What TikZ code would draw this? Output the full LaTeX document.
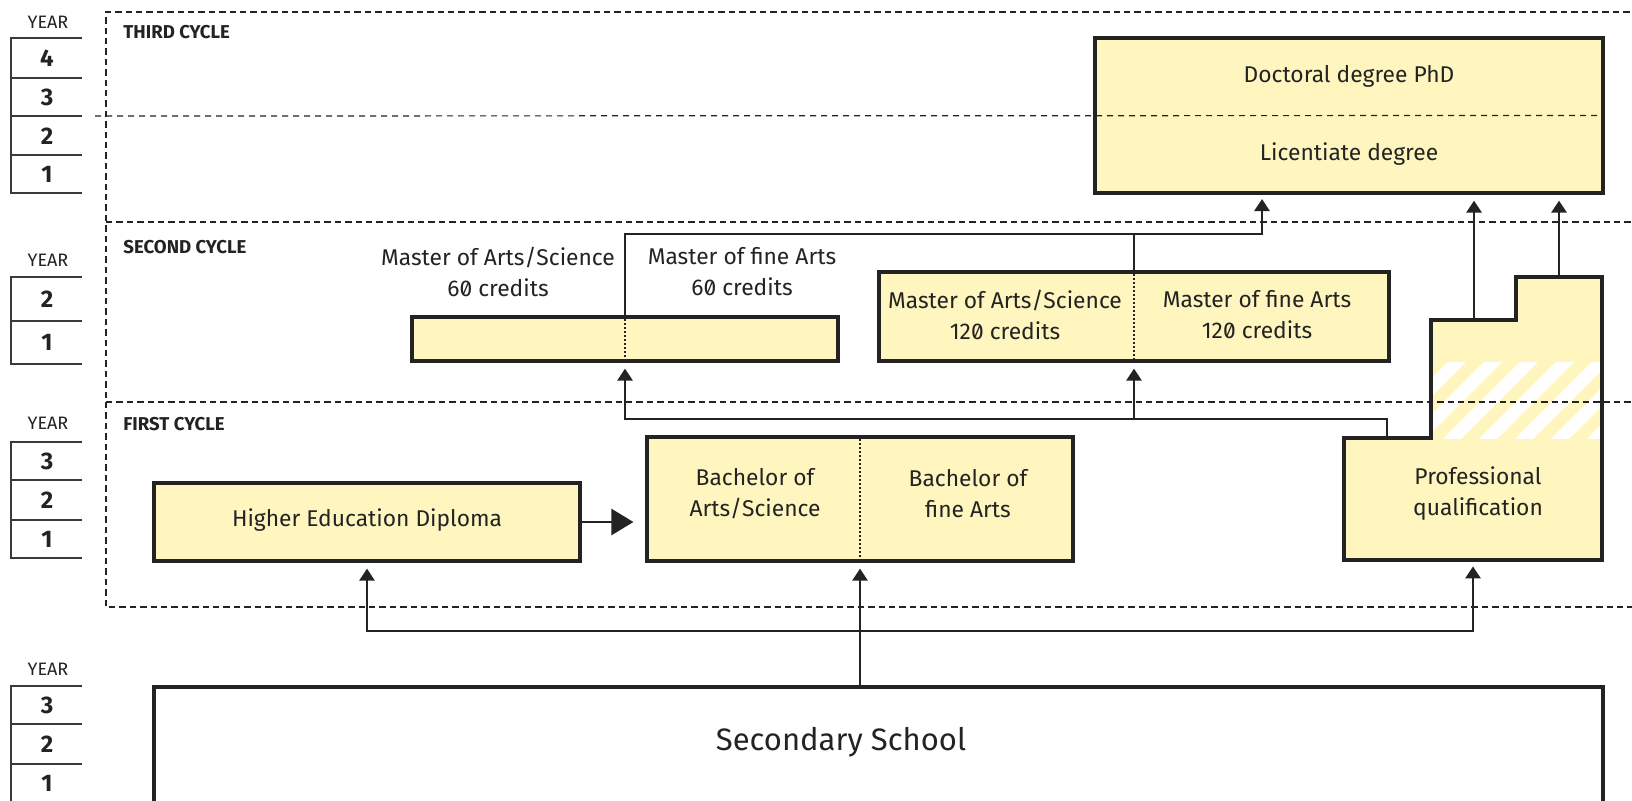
\documentclass[tikz,border=0pt]{standalone}
\usepackage{fontspec}
\setmainfont{Fira Sans}[Numbers=SlashedZero]
\usetikzlibrary{arrows.meta}
\definecolor{yel}{HTML}{FFF6BF}
\definecolor{ink}{HTML}{232323}
\definecolor{rulec}{HTML}{3A3A3A}
\begin{document}
\begin{tikzpicture}[x=0.5pt,y=-0.5pt,
  box/.style={draw=ink, line width=1.6pt, fill=yel, inner sep=0pt},
  conn/.style={draw=ink, line width=1.35pt},
  arr/.style={-{Triangle[length=6pt,width=7.5pt]}, shorten >=3pt},
  bigarr/.style={-{Triangle[length=11pt,width=13pt]}, shorten >=6pt},
  txt/.style={font=\fontsize{11.4}{15.5}\selectfont, text=ink, align=center, inner sep=0pt},
  divider/.style={draw=ink, line width=0.6pt, dash pattern=on 1pt off 1pt},
  frame/.style={draw=ink, line width=1.4pt, dash pattern=on 3.2pt off 2pt},
  thindash/.style={draw=ink, line width=0.6pt, dash pattern=on 3pt off 2.5pt},
  yearlbl/.style={font=\fontsize{9}{10}\selectfont, text=ink, inner sep=0pt},
  yearnum/.style={font=\bfseries\fontsize{12}{14}\selectfont, text=ink, inner sep=0pt},
  cyclelbl/.style={font=\bfseries\fontsize{9.3}{10}\selectfont, text=ink, anchor=west, inner sep=0pt},
  yrule/.style={draw=rulec, line width=0.8pt},
]
\useasboundingbox (0,0) rectangle (1632,800);
\fill[white] (0,0) rectangle (1632,800);

% ---------- year columns ----------
\node[yearlbl] (ya) at (48,22) {YEAR};
\draw[yrule] (82,38) -- (11,38) -- (11,193) -- (82,193);
\foreach \yy in {78,116,155} \draw[yrule] (11,\yy) -- (82,\yy);
\node[yearnum] (ya4) at (47,58) {4};
\node[yearnum] (ya3) at (47,97) {3};
\node[yearnum] (ya2) at (47,136) {2};
\node[yearnum] (ya1) at (47,174) {1};

\node[yearlbl] (yb) at (48,260) {YEAR};
\draw[yrule] (82,277) -- (11,277) -- (11,364) -- (82,364);
\draw[yrule] (11,321) -- (82,321);
\node[yearnum] (yb2) at (47,299) {2};
\node[yearnum] (yb1) at (47,342) {1};

\node[yearlbl] (yc) at (48,423) {YEAR};
\draw[yrule] (82,442) -- (11,442) -- (11,558) -- (82,558);
\foreach \yy in {480,520} \draw[yrule] (11,\yy) -- (82,\yy);
\node[yearnum] (yc3) at (47,461) {3};
\node[yearnum] (yc2) at (47,500) {2};
\node[yearnum] (yc1) at (47,539) {1};

\node[yearlbl] (yd) at (48,669) {YEAR};
\draw[yrule] (82,686) -- (11,686) -- (11,815);
\foreach \yy in {724,764,803} \draw[yrule] (11,\yy) -- (82,\yy);
\node[yearnum] (yd3) at (47,705) {3};
\node[yearnum] (yd2) at (47,744) {2};
\node[yearnum] (yd1) at (47,783) {1};

% ---------- cycle labels ----------
\node[cyclelbl] (c3) at (123,32) {THIRD CYCLE};
\node[cyclelbl] (c2) at (123,247) {SECOND CYCLE};
\node[cyclelbl] (c1) at (123,424) {FIRST CYCLE};

% ---------- third cycle ----------
\node[box, minimum width=254pt, minimum height=77.5pt] (doc) at (1349,115.5) {};
\draw[thindash] (95,116) -- (doc.east);
\node[txt] (doctxt) at (1349,76) {Doctoral degree PhD};
\node[txt] (lictxt) at (1349,154) {Licentiate degree};

% ---------- second cycle ----------
\node[box, minimum width=213pt, minimum height=22pt] (sixty) at (625,339) {};
\draw[divider] (sixty.north) -- (sixty.south);
\node[txt] (s60a) at (498,272) {Master of Arts/Science\\60 credits};
\node[txt] (s60b) at (742,272) {Master of fine Arts\\60 credits};

\node[box, minimum width=255pt, minimum height=44.5pt] (m120) at (1134,316.5) {};
\draw[divider] (m120.north) -- (m120.south);
\node[txt] (m120a) at (1005,315) {Master of Arts/Science\\120 credits};
\node[txt] (m120b) at (1257,315) {Master of fine Arts\\120 credits};

% ---------- first cycle ----------
\node[box, minimum width=213pt, minimum height=39pt] (hed) at (367,522) {};
\node[txt] (hedtxt) at (367,520) {Higher Education Diploma};

\node[box, minimum width=213pt, minimum height=62pt] (bach) at (860,499) {};
\draw[divider] (bach.north) -- (bach.south);
\node[txt] (bacha) at (755,494) {Bachelor of\\Arts/Science};
\node[txt] (bachb) at (968,494) {Bachelor of\\fine Arts};

% professional qualification (stepped shape)
\fill[yel] (1344,560) -- (1344,438) -- (1431,438) -- (1431,320) -- (1516,320)
  -- (1516,277) -- (1602,277) -- (1602,560) -- cycle;
\begin{scope}
  \clip (1431,362) rectangle (1602,438);
  \foreach \i in {-4,...,6}
    \draw[white, line width=6.5pt] ({1443+36*\i},448) -- ({1443+36*\i+90},358);
\end{scope}
\draw[ink, line width=1.6pt] (1344,560) -- (1344,438) -- (1431,438) -- (1431,320) -- (1516,320)
  -- (1516,277) -- (1602,277) -- (1602,560) -- cycle;
\node[minimum width=129pt, minimum height=61pt, inner sep=0pt] (prof) at (1473,499) {};
\node[txt] (proftxt) at (1478,494) {Professional\\qualification};

% ---------- secondary school ----------
\node[box, fill=white, minimum width=724.5pt, minimum height=80pt] (sec) at (878.5,767) {};
\node[txt, font=\fontsize{15.5}{19}\selectfont] (sectxt) at (841,742) {Secondary School};

% ---------- helper coordinates ----------
\coordinate (step1) at (1474,320);
\coordinate (step2) at (1559,277);
\coordinate (proftop) at (1387,438);
\coordinate (hline) at (0,419);
\coordinate (tline) at (0,234);
\coordinate (docin) at (1262,193);
\coordinate (bline) at (0,631);

% ---------- connectors ----------
\draw[conn, arr] (step1) -- (step1 |- doc.south);
\draw[conn, arr] (step2) -- (step2 |- doc.south);
\draw[conn, arr] (sixty.north) -- (sixty.north |- tline) -- (docin |- tline) -- (docin);
\draw[conn] (m120.north) -- (m120.north |- tline);
\draw[conn, arr] (proftop) -- (proftop |- hline) -- (sixty.south |- hline) -- (sixty.south);
\draw[conn, arr] (m120.south |- hline) -- (m120.south);
\draw[conn, bigarr] (hed.east) -- (hed.east -| bach.west);
\draw[conn, arr] (bach.south |- sec.north) -- (bach.south);
\draw[conn, arr] (bach.south |- bline) -| (hed.south);
\draw[conn, arr] (bach.south |- bline) -| (prof.south);

% ---------- dashed cycle frame ----------
\draw[frame] (1640,12) -- (106,12) -- (106,607) -- (1640,607);
\draw[frame] (106,222) -- (1640,222);
\draw[frame] (106,402) -- (1640,402);
\end{tikzpicture}
\end{document}
